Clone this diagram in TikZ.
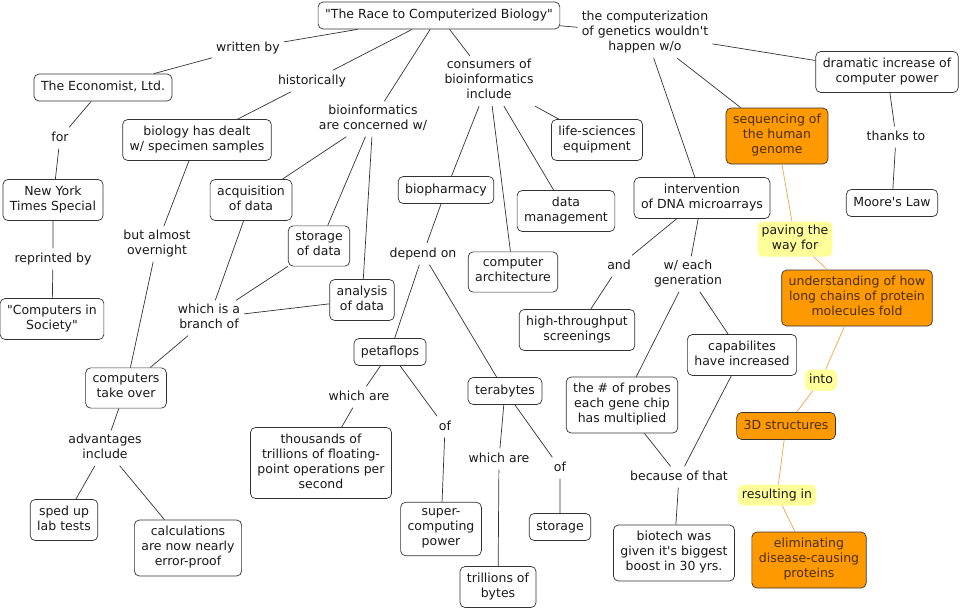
\documentclass[tikz,border=0pt]{standalone}
\usepackage{fontspec}
\setmainfont{DejaVu Sans}
\usepackage{tikz}

\definecolor{cmorange}{HTML}{FF9900}
\definecolor{cmyellow}{HTML}{FFFF99}
\definecolor{cmbrown}{HTML}{4A2E00}
\definecolor{cmline}{HTML}{333333}
\definecolor{cmtext}{HTML}{1A1A1A}
\definecolor{cmorangeline}{HTML}{F2A64A}

\begin{document}
\begin{tikzpicture}[x=1pt, y=-1pt,
  every node/.style={font=\fontsize{12.5}{15}\selectfont, text=cmtext,
    execute at begin node=\strut, execute at end node=\strut},
  concept/.style={draw=cmline, line width=0.7pt, rounded corners=5pt,
    align=center, inner xsep=7pt, inner ysep=6pt},
  phrase/.style={align=center, inner xsep=4pt, inner ysep=3pt},
  hotconcept/.style={concept, fill=cmorange, text=cmbrown},
  hotphrase/.style={phrase, fill=cmyellow, rounded corners=5pt},
  link/.style={draw=cmline, line width=0.7pt},
  hotlink/.style={draw=cmorangeline, line width=0.7pt}]
\useasboundingbox[fill=white] (0,0) rectangle (960,611);

% left branch
\node[concept] (race) at (439,15.5) {\textquotedbl The Race to Computerized Biology\textquotedbl};
\node[phrase] (writtenby) at (248,48) {written by};
\node[concept] (economist) at (103,87.5) {The Economist, Ltd.};
\node[phrase] (for) at (60,138) {for};
\node[concept] (nyt) at (53,200) {New York\\Times Special};
\node[phrase] (reprinted) at (53,259) {reprinted by};
\node[concept] (society) at (52,319) {\textquotedbl Computers in\\Society\textquotedbl};
\node[phrase] (historically) at (312,81) {historically};
\node[concept] (specimen) at (197,140) {biology has dealt\\w/ specimen samples};
\node[phrase] (overnight) at (157,244) {but almost\\overnight};
\node[concept] (takeover) at (126,388) {computers\\take over};
\node[phrase] (advantages) at (105,448) {advantages\\include};
\node[concept] (labtests) at (64,520) {sped up\\lab tests};
\node[concept] (errorproof) at (188,548) {calculations\\are now nearly\\error-proof};

% bioinformatics
\node[phrase] (concerned) at (373,119) {bioinformatics\\are concerned w/};
\node[concept] (acquisition) at (251,200) {acquisition\\of data};
\node[concept] (storagedata) at (319,246) {storage\\of data};
\node[concept] (analysis) at (362,300) {analysis\\of data};
\node[phrase] (branch) at (209,318) {which is a\\branch of};

% consumers
\node[phrase] (consumers) at (489,81) {consumers of\\bioinformatics\\include};
\node[concept] (biopharmacy) at (446,190) {biopharmacy};
\node[concept] (lifesci) at (597,140) {life-sciences\\equipment};
\node[concept] (datamgmt) at (566,211) {data\\management};
\node[concept] (architecture) at (513,272) {computer\\architecture};
\node[phrase] (dependon) at (423,254) {depend on};
\node[concept] (petaflops) at (390,352) {petaflops};
\node[concept] (terabytes) at (505,391) {terabytes};
\node[phrase] (whicharea) at (359,397) {which are};
\node[concept] (thousands) at (321,463) {thousands of\\trillions of floating-\\point operations per\\second};
\node[phrase] (ofa) at (445,427) {of};
\node[concept] (supercomp) at (441,529) {super-\\computing\\power};
\node[phrase] (whichareb) at (499,459) {which are};
\node[phrase] (ofb) at (560,468) {of};
\node[concept] (storage) at (560,527) {storage};
\node[concept] (bytes) at (498,587) {trillions of\\bytes};

% genetics
\node[phrase] (without) at (645,33) {the computerization\\of genetics wouldn\textquotesingle t\\happen w/o};
\node[concept] (power) at (887,72) {dramatic increase of\\computer power};
\node[phrase] (thanks) at (896,137) {thanks to};
\node[concept] (moore) at (892,203) {Moore\textquotesingle s Law};
\node[concept] (microarrays) at (702,198) {intervention\\of DNA microarrays};
\node[phrase] (and) at (619,266) {and};
\node[phrase] (generation) at (688,274) {w/ each\\generation};
\node[concept] (screenings) at (577,330) {high-throughput\\screenings};
\node[concept] (capabilities) at (742,355) {capabilites\\have increased};
\node[concept] (probes) at (622,405) {the \# of probes\\each gene chip\\has multiplied};
\node[phrase] (because) at (679,477) {because of that};
\node[concept] (biotech) at (674,553) {biotech was\\given it\textquotesingle s biggest\\boost in 30 yrs.};

% highlighted chain
\node[hotconcept] (genome) at (777,136) {sequencing of\\the human\\genome};
\node[hotphrase] (paving) at (795,239) {paving the\\way for};
\node[hotconcept] (folding) at (857,298) {understanding of how\\long chains of protein\\molecules fold};
\node[hotphrase] (into) at (821,380) {into};
\node[hotconcept] (structures) at (786,426) {3D structures};
\node[hotphrase] (resulting) at (777,495) {resulting in};
\node[hotconcept] (disease) at (809,560) {eliminating\\disease-causing\\proteins};

% connectors
\draw[link] (race) -- (writtenby) -- (economist) -- (for) -- (nyt) -- (reprinted) -- (society);
\draw[link] (race) -- (historically) -- (specimen) -- (overnight) -- (takeover) -- (advantages) -- (labtests);
\draw[link] (advantages) -- (errorproof);
\draw[link] (race) -- (concerned) -- (acquisition) -- (branch) -- (takeover);
\draw[link] (concerned) -- (storagedata) -- (branch);
\draw[link] (concerned) -- (analysis) -- (branch);
\draw[link] (race) -- (consumers) -- (biopharmacy) -- (dependon) -- (petaflops) -- (whicharea) -- (thousands);
\draw[link] (consumers) -- (architecture);
\draw[link] (consumers) -- (datamgmt);
\draw[link] (consumers) -- (lifesci);
\draw[link] (petaflops) -- (ofa) -- (supercomp);
\draw[link] (dependon) -- (terabytes) -- (whichareb) -- (bytes);
\draw[link] (terabytes) -- (ofb) -- (storage);
\draw[link] (race) -- (without) -- (power) -- (thanks) -- (moore);
\draw[link] (without) -- (microarrays) -- (and) -- (screenings);
\draw[link] (microarrays) -- (generation) -- (probes) -- (because) -- (biotech);
\draw[link] (generation) -- (capabilities) -- (because);
\draw[link] (without) -- (genome);
\draw[hotlink] (genome) -- (paving) -- (folding) -- (into) -- (structures) -- (resulting) -- (disease);
\end{tikzpicture}
\end{document}
